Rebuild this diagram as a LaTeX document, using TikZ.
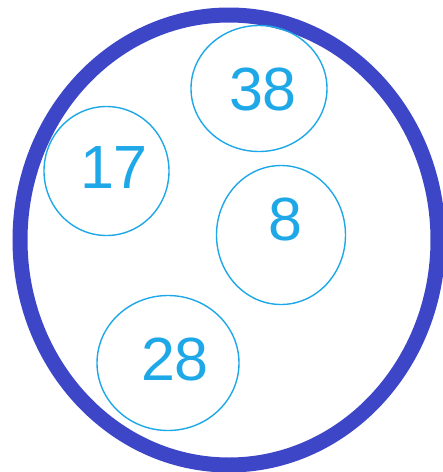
\documentclass[tikz,border=0pt]{standalone}
\usepackage{fontspec}
\setmainfont{Liberation Sans}
\definecolor{ringblue}{RGB}{62,70,200}
\definecolor{cyanline}{RGB}{30,168,232}
\tikzset{
  ring/.style={draw=ringblue, line width=15pt},
  bubble/.style={draw=cyanline, line width=1.4pt},
  num/.style={text=cyanline, inner sep=0pt, anchor=base, font=\fontsize{61}{61}\selectfont}
}
\begin{document}
\begin{tikzpicture}[x=1pt,y=-1pt]
\useasboundingbox (0,0) rectangle (443,472);
\clip (0,0) rectangle (443,472);
\fill[white] (0,0) rectangle (443,472);
\draw[ring] (229,240) ellipse [x radius=209, y radius=225];
\draw[bubble] (259,88.5) ellipse [x radius=68, y radius=63];
\draw[bubble] (106.5,171) ellipse [x radius=62.5, y radius=64.5];
\draw[bubble] (281,235) ellipse [x radius=64.5, y radius=69.5];
\draw[bubble] (168,363) ellipse [x radius=71, y radius=67.5];
\node[num] (n38) at (263,110) {38};
\node[num] (n17) at (114,188) {17};
\node[num] (n8) at (285,240) {8};
\node[num] (n28) at (175,380) {28};
\end{tikzpicture}
\end{document}
